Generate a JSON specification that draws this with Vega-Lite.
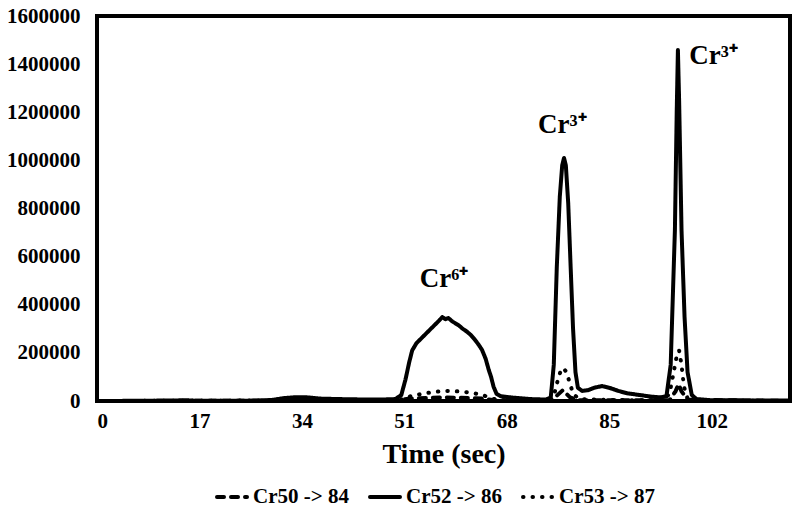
{
  "$schema": "https://vega.github.io/schema/vega-lite/v6.json",
  "width": 693,
  "height": 385,
  "autosize": {"type": "none"},
  "padding": {"left": 97, "top": 16, "right": 10, "bottom": 110},
  "background": "white",
  "config": {
    "view": {"stroke": "black", "strokeWidth": 4},
    "font": "Liberation Serif",
    "axis": {"labelFont": "Liberation Serif", "labelFontWeight": "bold", "labelFontSize": 21, "labelColor": "black", "ticks": false, "domain": false, "grid": false, "titleFont": "Liberation Serif", "titleFontWeight": "bold", "titleColor": "black"},
    "legend": {"labelFont": "Liberation Serif", "labelFontWeight": "bold", "labelFontSize": 21, "labelColor": "black"}
  },
  "datasets": {
    "lines": [
      {"t":0,"v":0,"s":"Cr52 -> 86"},{"t":8,"v":1000,"s":"Cr52 -> 86"},{"t":15,"v":3000,"s":"Cr52 -> 86"},{"t":16,"v":1500,"s":"Cr52 -> 86"},{"t":25,"v":1000,"s":"Cr52 -> 86"},{"t":29,"v":4000,"s":"Cr52 -> 86"},{"t":31,"v":12000,"s":"Cr52 -> 86"},{"t":33,"v":16000,"s":"Cr52 -> 86"},{"t":35,"v":15000,"s":"Cr52 -> 86"},{"t":37,"v":10000,"s":"Cr52 -> 86"},{"t":42,"v":7000,"s":"Cr52 -> 86"},{"t":47,"v":6000,"s":"Cr52 -> 86"},{"t":49.5,"v":8000,"s":"Cr52 -> 86"},{"t":50.5,"v":25000,"s":"Cr52 -> 86"},{"t":51.2,"v":90000,"s":"Cr52 -> 86"},{"t":51.8,"v":160000,"s":"Cr52 -> 86"},{"t":52.3,"v":210000,"s":"Cr52 -> 86"},{"t":53,"v":240000,"s":"Cr52 -> 86"},{"t":54,"v":265000,"s":"Cr52 -> 86"},{"t":55,"v":290000,"s":"Cr52 -> 86"},{"t":56,"v":315000,"s":"Cr52 -> 86"},{"t":56.8,"v":335000,"s":"Cr52 -> 86"},{"t":57.3,"v":349000,"s":"Cr52 -> 86"},{"t":57.8,"v":340000,"s":"Cr52 -> 86"},{"t":58.3,"v":345000,"s":"Cr52 -> 86"},{"t":59,"v":330000,"s":"Cr52 -> 86"},{"t":60,"v":315000,"s":"Cr52 -> 86"},{"t":60.7,"v":300000,"s":"Cr52 -> 86"},{"t":61.3,"v":290000,"s":"Cr52 -> 86"},{"t":62,"v":275000,"s":"Cr52 -> 86"},{"t":62.7,"v":255000,"s":"Cr52 -> 86"},{"t":63.3,"v":235000,"s":"Cr52 -> 86"},{"t":63.9,"v":212000,"s":"Cr52 -> 86"},{"t":64.5,"v":175000,"s":"Cr52 -> 86"},{"t":65,"v":130000,"s":"Cr52 -> 86"},{"t":65.4,"v":100000,"s":"Cr52 -> 86"},{"t":65.8,"v":60000,"s":"Cr52 -> 86"},{"t":66.3,"v":30000,"s":"Cr52 -> 86"},{"t":67,"v":20000,"s":"Cr52 -> 86"},{"t":69,"v":14000,"s":"Cr52 -> 86"},{"t":72,"v":8000,"s":"Cr52 -> 86"},{"t":74.5,"v":6000,"s":"Cr52 -> 86"},{"t":75.3,"v":15000,"s":"Cr52 -> 86"},{"t":75.8,"v":150000,"s":"Cr52 -> 86"},{"t":76.3,"v":557000,"s":"Cr52 -> 86"},{"t":76.8,"v":850000,"s":"Cr52 -> 86"},{"t":77.2,"v":980000,"s":"Cr52 -> 86"},{"t":77.5,"v":1010000,"s":"Cr52 -> 86"},{"t":77.8,"v":980000,"s":"Cr52 -> 86"},{"t":78.2,"v":820000,"s":"Cr52 -> 86"},{"t":78.6,"v":557000,"s":"Cr52 -> 86"},{"t":79,"v":300000,"s":"Cr52 -> 86"},{"t":79.4,"v":120000,"s":"Cr52 -> 86"},{"t":79.8,"v":55000,"s":"Cr52 -> 86"},{"t":80.5,"v":42000,"s":"Cr52 -> 86"},{"t":81.5,"v":45000,"s":"Cr52 -> 86"},{"t":82.5,"v":55000,"s":"Cr52 -> 86"},{"t":83.8,"v":62000,"s":"Cr52 -> 86"},{"t":85,"v":55000,"s":"Cr52 -> 86"},{"t":86.5,"v":42000,"s":"Cr52 -> 86"},{"t":88,"v":32000,"s":"Cr52 -> 86"},{"t":90,"v":25000,"s":"Cr52 -> 86"},{"t":92,"v":18000,"s":"Cr52 -> 86"},{"t":93.5,"v":15000,"s":"Cr52 -> 86"},{"t":94.5,"v":20000,"s":"Cr52 -> 86"},{"t":95.2,"v":150000,"s":"Cr52 -> 86"},{"t":95.9,"v":710000,"s":"Cr52 -> 86"},{"t":96.2,"v":1200000,"s":"Cr52 -> 86"},{"t":96.4,"v":1459000,"s":"Cr52 -> 86"},{"t":96.6,"v":1250000,"s":"Cr52 -> 86"},{"t":97,"v":710000,"s":"Cr52 -> 86"},{"t":97.5,"v":350000,"s":"Cr52 -> 86"},{"t":98,"v":120000,"s":"Cr52 -> 86"},{"t":98.7,"v":25000,"s":"Cr52 -> 86"},{"t":99.5,"v":8000,"s":"Cr52 -> 86"},{"t":102,"v":3000,"s":"Cr52 -> 86"},{"t":115,"v":2000,"s":"Cr52 -> 86"},

      {"t":0,"v":0,"s":"Cr53 -> 87"},{"t":30,"v":2000,"s":"Cr53 -> 87"},{"t":34,"v":5000,"s":"Cr53 -> 87"},{"t":40,"v":3000,"s":"Cr53 -> 87"},{"t":49,"v":3000,"s":"Cr53 -> 87"},{"t":51,"v":8000,"s":"Cr53 -> 87"},{"t":52,"v":20000,"s":"Cr53 -> 87"},{"t":54,"v":30000,"s":"Cr53 -> 87"},{"t":56,"v":38000,"s":"Cr53 -> 87"},{"t":58,"v":42000,"s":"Cr53 -> 87"},{"t":60,"v":40000,"s":"Cr53 -> 87"},{"t":62,"v":35000,"s":"Cr53 -> 87"},{"t":64,"v":25000,"s":"Cr53 -> 87"},{"t":65.5,"v":10000,"s":"Cr53 -> 87"},{"t":67,"v":3000,"s":"Cr53 -> 87"},{"t":75,"v":2000,"s":"Cr53 -> 87"},{"t":75.8,"v":20000,"s":"Cr53 -> 87"},{"t":76.4,"v":80000,"s":"Cr53 -> 87"},{"t":77,"v":130000,"s":"Cr53 -> 87"},{"t":77.4,"v":137000,"s":"Cr53 -> 87"},{"t":77.9,"v":120000,"s":"Cr53 -> 87"},{"t":78.4,"v":80000,"s":"Cr53 -> 87"},{"t":79,"v":30000,"s":"Cr53 -> 87"},{"t":80,"v":8000,"s":"Cr53 -> 87"},{"t":85,"v":4000,"s":"Cr53 -> 87"},{"t":94,"v":3000,"s":"Cr53 -> 87"},{"t":95,"v":30000,"s":"Cr53 -> 87"},{"t":95.7,"v":120000,"s":"Cr53 -> 87"},{"t":96.3,"v":200000,"s":"Cr53 -> 87"},{"t":96.6,"v":210000,"s":"Cr53 -> 87"},{"t":97,"v":150000,"s":"Cr53 -> 87"},{"t":97.4,"v":60000,"s":"Cr53 -> 87"},{"t":98,"v":10000,"s":"Cr53 -> 87"},{"t":100,"v":2000,"s":"Cr53 -> 87"},{"t":115,"v":0,"s":"Cr53 -> 87"},

      {"t":0,"v":0,"s":"Cr50 -> 84"},{"t":30,"v":1000,"s":"Cr50 -> 84"},{"t":34,"v":4000,"s":"Cr50 -> 84"},{"t":40,"v":2000,"s":"Cr50 -> 84"},{"t":50,"v":3000,"s":"Cr50 -> 84"},{"t":52,"v":10000,"s":"Cr50 -> 84"},{"t":58,"v":15000,"s":"Cr50 -> 84"},{"t":64,"v":10000,"s":"Cr50 -> 84"},{"t":66,"v":3000,"s":"Cr50 -> 84"},{"t":75,"v":2000,"s":"Cr50 -> 84"},{"t":76,"v":15000,"s":"Cr50 -> 84"},{"t":77.3,"v":45000,"s":"Cr50 -> 84"},{"t":78.5,"v":15000,"s":"Cr50 -> 84"},{"t":80,"v":3000,"s":"Cr50 -> 84"},{"t":95,"v":3000,"s":"Cr50 -> 84"},{"t":96,"v":40000,"s":"Cr50 -> 84"},{"t":96.5,"v":70000,"s":"Cr50 -> 84"},{"t":97,"v":40000,"s":"Cr50 -> 84"},{"t":98,"v":5000,"s":"Cr50 -> 84"},{"t":115,"v":0,"s":"Cr50 -> 84"}
    ],
    "labels": [
      {"t":57.6,"v":474000,"label":"Cr⁶⁺"},
      {"t":77.2,"v":1114000,"label":"Cr³⁺"},
      {"t":102.3,"v":1400000,"label":"Cr³⁺"}
    ]
  },
  "layer": [
    {
      "data": {"name": "lines"},
      "mark": {"type": "line", "strokeWidth": 4, "strokeCap": "round", "strokeJoin": "round", "color": "black", "clip": true},
      "encoding": {
        "x": {"field": "t", "type": "quantitative", "scale": {"domain": [0, 115], "nice": false, "zero": false}, "axis": {"values": [0, 17, 34, 51, 68, 85, 102], "title": "Time (sec)", "titleFontSize": 28, "labelPadding": 9, "titlePadding": 9}},
        "y": {"field": "v", "type": "quantitative", "scale": {"domain": [0, 1600000], "nice": false}, "axis": {"values": [0, 200000, 400000, 600000, 800000, 1000000, 1200000, 1400000, 1600000], "format": "d", "title": null, "labelPadding": 17}},
        "strokeDash": {"field": "s", "type": "nominal", "scale": {"domain": ["Cr50 -> 84", "Cr52 -> 86", "Cr53 -> 87"], "range": [[7, 7], [1, 0], [0.5, 9]]},
          "legend": {"title": null, "orient": "none", "legendX": 118, "legendY": 464, "direction": "horizontal", "symbolType": "stroke", "symbolSize": 900, "symbolStrokeWidth": 4, "symbolStrokeColor": "black", "columnPadding": 13, "labelOffset": 4,
            "encode": {"symbols": {"update": {"strokeCap": {"value": "round"}}}}}},
        "order": {"field": "t", "type": "quantitative"}
      }
    },
    {
      "data": {"name": "labels"},
      "mark": {"type": "text", "font": "Liberation Serif", "fontWeight": "bold", "fontSize": 27, "color": "black", "align": "center", "baseline": "alphabetic"},
      "encoding": {
        "x": {"field": "t", "type": "quantitative"},
        "y": {"field": "v", "type": "quantitative"},
        "text": {"field": "label"}
      }
    }
  ]
}
